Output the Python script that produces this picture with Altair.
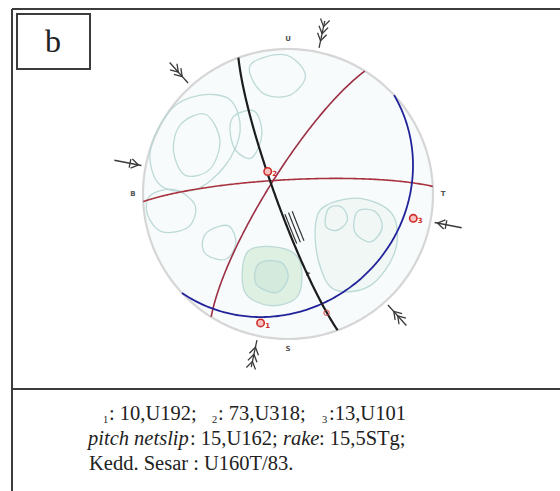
import numpy as np
import pandas as pd
import altair as alt

# ---------------- data ----------------
# Principal stress axes: plunge / trend (degrees)
sigma_id = ["1", "2", "3"]
sigma_plunge = [10, 73, 13]
sigma_trend = [192, 318, 101]

# Net-slip lineation on the fault
slip_plunge = [15]
slip_trend = [162]

# Planes drawn as great circles: dip direction / dip
plane_id = ["red_ew", "red_ne", "blue", "fault"]
plane_dipdir = [357, 302, 137, 250]
plane_dip = [82, 79, 24, 83]

# Kinematic marks on the fault plane (angle from strike, within the plane)
shear_rake = [62, 80]
fault_arrow_rake = [43]

# Compass letters (U = utara, T = timur, S = selatan, B = barat)
compass_text = ["U", "T", "S", "B"]
compass_az = [0, 90, 180, 270]

# Density contour rings, net coordinates (unit radius)
contour_x = [
    [-0.81, -0.61, -0.40, -0.33, -0.43, -0.64, -0.88, -0.95],
    [-0.74, -0.57, -0.47, -0.54, -0.71, -0.79],
    [-0.37, -0.23, -0.18, -0.25, -0.36, -0.40],
    [-0.26, -0.02, 0.12, 0.01, -0.18],
    [-0.54, -0.41, -0.36, -0.43, -0.56, -0.59],
    [-0.95, -0.78, -0.64, -0.69, -0.87, -0.97],
    [0.26, 0.50, 0.72, 0.74, 0.57, 0.32, 0.21, 0.19],
    [0.28, 0.37, 0.41, 0.34, 0.26],
    [0.48, 0.60, 0.65, 0.57, 0.46],
    [-0.28, -0.06, 0.08, 0.07, -0.12, -0.30],
    [-0.20, -0.05, 0.00, -0.08, -0.22],
]
contour_y = [
    [0.58, 0.68, 0.65, 0.44, 0.20, 0.03, 0.06, 0.30],
    [0.48, 0.55, 0.37, 0.17, 0.13, 0.30],
    [0.54, 0.57, 0.41, 0.25, 0.30, 0.44],
    [0.89, 0.96, 0.82, 0.68, 0.70],
    [-0.25, -0.22, -0.34, -0.45, -0.42, -0.33],
    [-0.01, 0.03, -0.08, -0.23, -0.26, -0.14],
    [-0.08, -0.03, -0.14, -0.39, -0.63, -0.66, -0.46, -0.21],
    [-0.10, -0.09, -0.18, -0.25, -0.22],
    [-0.12, -0.12, -0.23, -0.33, -0.26],
    [-0.40, -0.37, -0.46, -0.70, -0.77, -0.67],
    [-0.48, -0.47, -0.58, -0.68, -0.62],
]
contour_fill = ["none", "none", "none", "none", "none", "none",
                "#f0f7f5", "none", "none", "#dcefe0", "#d4eadc"]

# Caption
panel_letter = "b"
caption_sub = ["1", "2", "3"]
caption_vals = [": 10,U192;", ": 73,U318;", ":13,U101"]
caption_2 = ["pitch netslip", ": 15,U162;", "rake", ": 15,5STg;"]
caption_3 = "Kedd. Sesar : U160T/83."

# ---------------- geometry helpers ----------------
R_PX, CX, CY, W, H = 145.0, 288.0, 194.0, 560, 491
xs = alt.Scale(domain=[-CX / R_PX, (W - CX) / R_PX], nice=False, zero=False)
ys = alt.Scale(domain=[-(H - CY) / R_PX, CY / R_PX], nice=False, zero=False)
X = alt.X("x:Q", scale=xs, axis=None)
Y = alt.Y("y:Q", scale=ys, axis=None)


def lower_hemi(plunge, trend):
    """Schmidt (equal-area) lower-hemisphere projection."""
    p = np.radians(np.asarray(plunge, float))
    t = np.radians(np.asarray(trend, float))
    n, e, d = np.cos(p) * np.cos(t), np.cos(p) * np.sin(t), np.sin(p)
    k = 1.0 / np.sqrt(1.0 + d)
    return e * k, n * k


def plane_line(dipdir, dip, rake):
    """Projected lines lying in a plane, at the given angles from strike."""
    dd, dp = np.radians(dipdir), np.radians(dip)
    s = dd - np.pi / 2
    r = np.radians(np.asarray(rake, float))
    n = np.cos(r) * np.cos(s) + np.sin(r) * np.cos(dp) * np.cos(dd)
    e = np.cos(r) * np.sin(s) + np.sin(r) * np.cos(dp) * np.sin(dd)
    d = np.sin(r) * np.sin(dp)
    k = 1.0 / np.sqrt(1.0 + d)
    return e * k, n * k


sweep = np.linspace(0, 180, 181)
layers = []

# primitive circle with a faint tint inside
ang = np.radians(np.linspace(0, 360, 361))
prim = pd.DataFrame({"x": np.sin(ang), "y": np.cos(ang), "i": np.arange(361)})
layers.append(alt.Chart(prim).mark_line(
    interpolate="linear-closed", fill="#f7fbfb", stroke="#d6d6d6", strokeWidth=2.2
).encode(X, Y, order="i:Q"))

# density contours
for k, (cx_, cy_) in enumerate(zip(contour_x, contour_y)):
    df = pd.DataFrame({"x": cx_, "y": cy_, "i": range(len(cx_))})
    props = dict(interpolate="cardinal-closed", stroke="#b6d6d4", strokeWidth=1.3, opacity=0.9)
    if contour_fill[k] != "none":
        props["fill"] = contour_fill[k]
    layers.append(alt.Chart(df).mark_line(**props).encode(X, Y, order="i:Q"))

# great circles
plane_style = {
    "red_ew": dict(stroke="#a8333f", strokeWidth=1.6),
    "red_ne": dict(stroke="#9c2f45", strokeWidth=1.6),
    "blue": dict(stroke="#22239a", strokeWidth=1.8),
    "fault": dict(stroke="#1c1c1c", strokeWidth=2.2),
}
for pid, ddir, dp in zip(plane_id, plane_dipdir, plane_dip):
    gx, gy = plane_line(ddir, dp, sweep)
    df = pd.DataFrame({"x": gx, "y": gy, "i": np.arange(len(gx))})
    layers.append(alt.Chart(df).mark_line(**plane_style[pid]).encode(X, Y, order="i:Q"))

# shear-sense strokes beside the fault trace
fdd, fdp = plane_dipdir[3], plane_dip[3]
sx, sy = plane_line(fdd, fdp, np.linspace(shear_rake[0], shear_rake[1], 20))
vx, vy = sx[-1] - sx[0], sy[-1] - sy[0]
nrm = np.hypot(vx, vy)
px_, py_ = vy / nrm, -vx / nrm
shear_rows = []
for j, off in enumerate([0.018, 0.045, 0.072]):
    for i in range(len(sx)):
        shear_rows.append({"x": sx[i] + off * px_, "y": sy[i] + off * py_, "i": i, "g": j})
layers.append(alt.Chart(pd.DataFrame(shear_rows)).mark_line(
    stroke="#333333", strokeWidth=1.2
).encode(X, Y, order="i:Q", detail="g:N"))

ax_, ay_ = plane_line(fdd, fdp, fault_arrow_rake)
layers.append(alt.Chart(pd.DataFrame({"x": ax_, "y": ay_})).mark_point(
    shape="triangle-down", filled=True, color="#1c1c1c", size=28, angle=20
).encode(X, Y))

# stress axes
gx, gy = lower_hemi(sigma_plunge, sigma_trend)
sig = pd.DataFrame({"x": gx, "y": gy, "lab": sigma_id})
layers.append(alt.Chart(sig).mark_point(
    shape="circle", filled=False, stroke="#d02c2c", fill="#f6c4c0", fillOpacity=1,
    strokeWidth=1.6, size=55
).encode(X, Y))
layers.append(alt.Chart(sig).mark_text(
    color="#d02c2c", fontSize=7, dx=7, dy=3, font="DejaVu Sans", fontWeight="bold"
).encode(X, Y, text="lab:N"))

# net slip
lx, ly = lower_hemi(slip_plunge, slip_trend)
layers.append(alt.Chart(pd.DataFrame({"x": lx, "y": ly})).mark_point(
    shape="circle", filled=False, stroke="#d04040", strokeWidth=1.3, size=28
).encode(X, Y))

# stress arrows around the net
arrow_rows = []


def add_arrow(az, chevrons, inward=True, cross=False):
    a = np.radians(az)
    u = np.array([np.sin(a), np.cos(a)])
    w = np.array([np.cos(a), -np.sin(a)])
    p0, p1 = 1.03 * u, 1.22 * u
    arrow_rows.append({"x": p0[0], "y": p0[1], "x2": p1[0], "y2": p1[1]})
    for rc in chevrons:
        apex = rc * u
        back = 0.05 if inward else -0.05
        for sgn in (1, -1):
            end = apex + back * u + sgn * 0.032 * w
            arrow_rows.append({"x": apex[0], "y": apex[1], "x2": end[0], "y2": end[1]})
    if cross:
        c = 1.11 * u
        e1, e2 = c + 0.03 * w, c - 0.03 * w
        arrow_rows.append({"x": e1[0], "y": e1[1], "x2": e2[0], "y2": e2[1]})


t1, t2, t3 = sigma_trend
add_arrow(t1, [1.08, 1.13, 1.18])
add_arrow((t1 + 180) % 360, [1.08, 1.13, 1.18])
add_arrow(t2, [1.09, 1.13])
add_arrow((t2 + 180) % 360, [1.09, 1.13])
add_arrow(t3, [1.05], inward=True, cross=True)
add_arrow((t3 + 180) % 360, [1.05], inward=True, cross=True)
layers.append(alt.Chart(pd.DataFrame(arrow_rows)).mark_rule(
    stroke="#3a3a3a", strokeWidth=1.3
).encode(X, Y, x2="x2:Q", y2="y2:Q"))

# compass letters
ca = np.radians(compass_az)
comp = pd.DataFrame({"x": 1.07 * np.sin(ca), "y": 1.07 * np.cos(ca), "t": compass_text})
layers.append(alt.Chart(comp).mark_text(
    fontSize=7, font="DejaVu Sans", fontWeight="bold", color="#555555"
).encode(X, Y, text="t:N"))

# ---------------- frame and caption ----------------
one = pd.DataFrame({"k": [0]})
frame_col = "#3c3c3c"
layers.append(alt.Chart(one).mark_rule(stroke=frame_col, strokeWidth=2).encode(
    x=alt.value(12), x2=alt.value(560), y=alt.value(9)))
layers.append(alt.Chart(one).mark_rule(stroke=frame_col, strokeWidth=2).encode(
    x=alt.value(12), x2=alt.value(560), y=alt.value(389)))
layers.append(alt.Chart(one).mark_rule(stroke=frame_col, strokeWidth=2).encode(
    x=alt.value(12), y=alt.value(9), y2=alt.value(491)))
layers.append(alt.Chart(one).mark_rect(
    fill="white", stroke=frame_col, strokeWidth=2
).encode(x=alt.value(17), x2=alt.value(90), y=alt.value(14), y2=alt.value(69)))
layers.append(alt.Chart(one).mark_text(
    text=panel_letter, font="Liberation Serif", fontSize=32, color="#222222",
    align="center", baseline="alphabetic"
).encode(x=alt.value(53), y=alt.value(52)))

serif = "Liberation Serif"
txt_col = "#222222"
FS = 20.5


def caption(s, x, y, size=FS, style="normal", dy=0):
    return alt.Chart(one).mark_text(
        text=s, font=serif, fontSize=size, fontStyle=style, color=txt_col,
        align="left", baseline="alphabetic", dy=dy
    ).encode(x=alt.value(x), y=alt.value(y))


b1, b2, b3 = 420, 445, 470
for sub, val, xsub, xval in zip(caption_sub, caption_vals, [103, 212, 322], [109, 218, 329]):
    layers.append(caption(sub, xsub, b1, size=10.5, dy=3))
    layers.append(caption(val, xval, b1))
layers.append(caption(caption_2[0], 88, b2, style="italic"))
layers.append(caption(caption_2[1], 190, b2))
layers.append(caption(caption_2[2], 283, b2, style="italic"))
layers.append(caption(caption_2[3], 319, b2))
layers.append(caption(caption_3, 89, b3))

chart = alt.layer(*layers).properties(
    width=W, height=H, padding=0, autosize=alt.AutoSizeParams(type="none")
).configure_view(strokeWidth=0)

chart.save("out.html", embed_options={"renderer": "svg", "actions": False})
